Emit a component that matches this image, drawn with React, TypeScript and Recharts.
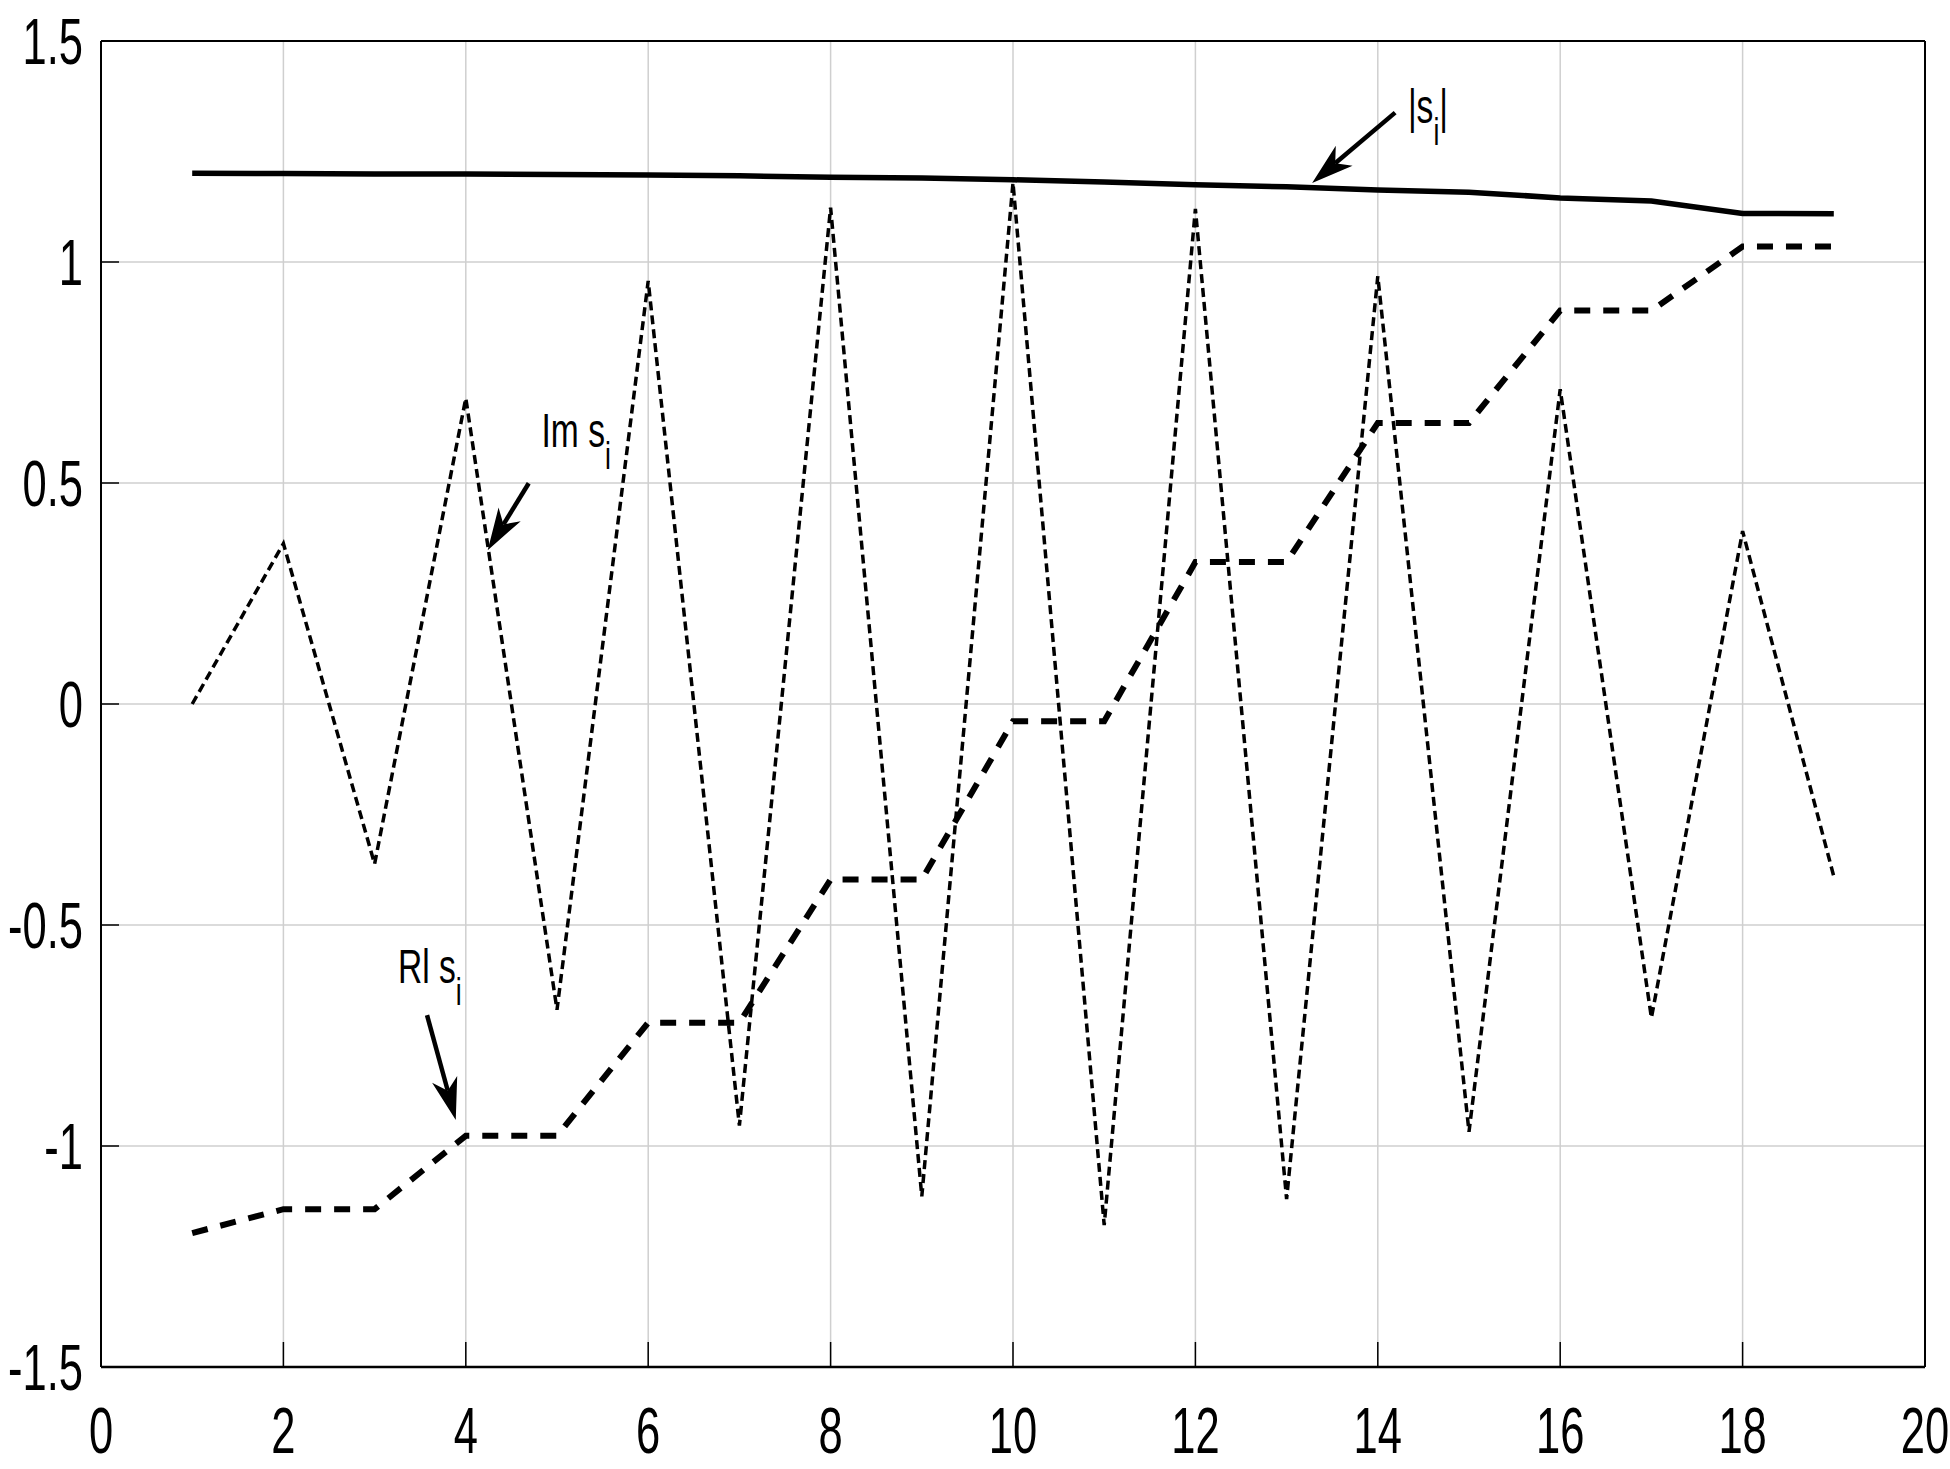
import {
  LineChart,
  Line,
  XAxis,
  YAxis,
  CartesianGrid,
  ReferenceLine,
  ReferenceDot,
} from "recharts";

const steps = [1, 2, 3, 4, 5, 6, 7, 8, 9, 10, 11, 12, 13, 14, 15, 16, 17, 18, 19];

const absS = [
  1.201, 1.2, 1.199, 1.199, 1.198, 1.197, 1.195, 1.192, 1.19, 1.186, 1.181,
  1.175, 1.17, 1.163, 1.158, 1.145, 1.138, 1.11, 1.109,
];

const imS = [
  0, 0.363, -0.362, 0.692, -0.692, 0.957, -0.954, 1.123, -1.114, 1.179,
  -1.179, 1.12, -1.12, 0.968, -0.968, 0.712, -0.71, 0.391, -0.39,
];

const rlS = [
  -1.197, -1.143, -1.143, -0.977, -0.977, -0.721, -0.721, -0.397, -0.397,
  -0.039, -0.039, 0.321, 0.321, 0.636, 0.636, 0.89, 0.89, 1.035, 1.035,
];

const xTicks = [0, 2, 4, 6, 8, 10, 12, 14, 16, 18, 20];
const yTicks = [-1.5, -1, -0.5, 0, 0.5, 1, 1.5];

// annotation arrows: from (start) to (tip), in data units
const arrows = [
  { from: { x: 14.19, y: 1.338 }, to: { x: 13.28, y: 1.179 } },
  { from: { x: 4.69, y: 0.4995 }, to: { x: 4.24, y: 0.348 } },
  { from: { x: 3.575, y: -0.704 }, to: { x: 3.89, y: -0.941 } },
];

const data = steps.map((x, i) => ({
  x,
  abs: absS[i],
  im: imS[i],
  rl: rlS[i],
}));

const FONT = "'Liberation Sans', Arial, sans-serif";
const SQUEEZE = 0.68;

const XTick = (props: any) => {
  const { x, y, payload } = props;
  return (
    <g transform={`translate(${x},${y + 46}) scale(${SQUEEZE},1)`}>
      <text textAnchor="middle" fontFamily={FONT} fontSize={64} fill="#000">
        {payload.value}
      </text>
    </g>
  );
};

const YTick = (props: any) => {
  const { x, y, payload } = props;
  return (
    <g transform={`translate(${x},${y + 23}) scale(${SQUEEZE},1)`}>
      <text textAnchor="end" fontFamily={FONT} fontSize={64} fill="#000">
        {payload.value}
      </text>
    </g>
  );
};

const Arrow = (props: any) => {
  const { x1, y1, x2, y2 } = props;
  const dx = x2 - x1;
  const dy = y2 - y1;
  const len = Math.sqrt(dx * dx + dy * dy);
  const ux = dx / len;
  const uy = dy / len;
  const head = 42;
  const half = 13;
  const bx = x2 - ux * head;
  const by = y2 - uy * head;
  const nx = x2 - ux * head * 0.72;
  const ny = y2 - uy * head * 0.72;
  const pts = [
    `${x2},${y2}`,
    `${bx - uy * half},${by + ux * half}`,
    `${nx},${ny}`,
    `${bx + uy * half},${by - ux * half}`,
  ].join(" ");
  return (
    <g>
      <line x1={x1} y1={y1} x2={nx} y2={ny} stroke="#000" strokeWidth={4.5} />
      <polygon points={pts} fill="#000" />
    </g>
  );
};

const label = (main: string, close?: string) => (props: any) => {
  const { cx, cy } = props;
  return (
    <g transform={`translate(${cx},${cy}) scale(0.7,1)`}>
      <text fontFamily={FONT} fontSize={48} fill="#000">
        {main}
        <tspan fontSize={38} dy={22}>
          i
        </tspan>
        {close ? <tspan fontSize={48} dy={-22}>{close}</tspan> : null}
      </text>
    </g>
  );
};

export default function App() {
  return (
    <div
      style={{
        position: "absolute",
        left: 0,
        top: 0,
        width: 1950,
        height: 1469,
        background: "#fff",
      }}
    >
      <LineChart
        width={1950}
        height={1469}
        data={data}
        margin={{ top: 0, right: 0, bottom: 0, left: 0 }}
      >
        <CartesianGrid stroke="#cfcfcf" strokeWidth={1.5} />
        <XAxis
          dataKey="x"
          type="number"
          domain={[0, 20]}
          ticks={xTicks}
          height={102}
          tickSize={-25}
          tickMargin={65}
          tick={<XTick />}
          axisLine={{ stroke: "#000", strokeWidth: 2.5 }}
          tickLine={{ stroke: "#000", strokeWidth: 1.5 }}
          allowDataOverflow
        />
        <XAxis
          xAxisId="top"
          orientation="top"
          dataKey="x"
          type="number"
          domain={[0, 20]}
          ticks={xTicks}
          height={41}
          tickSize={-25}
          tick={false}
          axisLine={{ stroke: "#000", strokeWidth: 2 }}
          tickLine={{ stroke: "#000", strokeWidth: 1.5 }}
        />
        <YAxis
          type="number"
          domain={[-1.5, 1.5]}
          ticks={yTicks}
          width={101}
          tickSize={-18}
          tickMargin={36}
          tick={<YTick />}
          axisLine={{ stroke: "#000", strokeWidth: 2 }}
          tickLine={{ stroke: "#000", strokeWidth: 1.5 }}
          allowDataOverflow
        />
        <YAxis
          yAxisId="right"
          orientation="right"
          type="number"
          domain={[-1.5, 1.5]}
          ticks={yTicks}
          width={25}
          tickSize={-17}
          tick={false}
          axisLine={{ stroke: "#000", strokeWidth: 2 }}
          tickLine={{ stroke: "#000", strokeWidth: 1.5 }}
        />
        <Line
          type="linear"
          dataKey="im"
          stroke="#000"
          strokeWidth={3.5}
          strokeDasharray="9 5"
          dot={false}
          isAnimationActive={false}
        />
        <Line
          type="linear"
          dataKey="rl"
          stroke="#000"
          strokeWidth={6}
          strokeDasharray="16 13"
          dot={false}
          isAnimationActive={false}
        />
        <Line
          type="linear"
          dataKey="abs"
          stroke="#000"
          strokeWidth={5.5}
          dot={false}
          isAnimationActive={false}
        />
        {arrows.map((a, i) => (
          <ReferenceLine
            key={i}
            segment={[a.from, a.to]}
            shape={(p: any) => <Arrow {...p} />}
          />
        ))}
        <ReferenceDot x={14.33} y={1.314} r={0} shape={label("|s", "|")} />
        <ReferenceDot x={4.83} y={0.582} r={0} shape={label("Im s")} />
        <ReferenceDot x={3.256} y={-0.631} r={0} shape={label("Rl s")} />
      </LineChart>
    </div>
  );
}
